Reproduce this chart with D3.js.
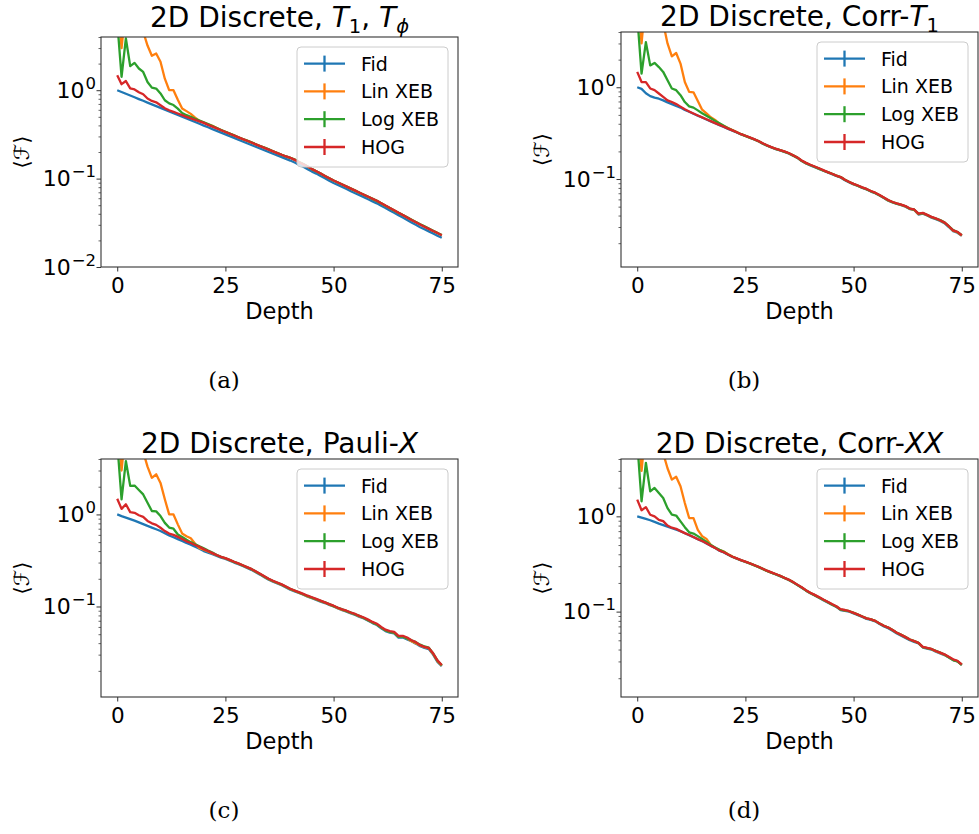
<!DOCTYPE html>
<html lang="en">
<head>
<meta charset="UTF-8">
<title>2D Discrete fidelity estimates</title>
<script src="https://cdn.jsdelivr.net/npm/d3@7/dist/d3.min.js"></script>
<style>
  body{margin:0;background:#fff;}
  text{font-family:"DejaVu Sans",sans-serif;fill:#000;}
  .cap{font-family:"DejaVu Serif",serif;}
</style>
</head>
<body>
<div id="chart"></div>
<script>
// depth axis (shared by all panels)
var depth=[0,1,2,3,4,5,6,7,8,9,10,11,12,13,14,15,16,17,18,19,20,21,22,23,24,25,26,27,28,29,
30,31,32,33,34,35,36,37,38,39,40,41,42,43,44,45,46,47,48,49,50,51,52,53,54,55,56,57,58,59,
60,61,62,63,64,65,66,67,68,69,70,71,72,73,74,75];

var seriesNames=["Fid","Lin XEB","Log XEB","HOG"];
var captions=["(a)","(b)","(c)","(d)"];
var xTicks=[0,25,50,75];
var yTickLabels=[["10","0"],["10","\u22121"],["10","\u22122"]];
var yTickValues=[1,0.1,0.01];
var yHigh=[4,4,4,4];
var yLow=[0.01,0.011,0.0104,0.0127];

// (a) T1, Tphi
var fidA=[1.000,0.955,0.912,0.871,0.832,0.794,0.759,0.724,0.692,0.661,
0.631,0.603,0.577,0.549,0.525,0.502,0.479,0.457,0.437,0.417,
0.398,0.381,0.363,0.347,0.331,0.317,0.302,0.289,0.275,0.263,
0.251,0.240,0.229,0.219,0.209,0.200,0.191,0.183,0.175,0.167,
0.160,0.152,0.144,0.136,0.128,0.120,0.114,0.107,0.101,0.0946,
0.0891,0.0845,0.0802,0.0762,0.0721,0.0684,0.0649,0.0617,0.0583,0.0553,
0.0525,0.0493,0.0465,0.0436,0.0411,0.0385,0.0362,0.0340,0.0319,0.0300,
0.0282,0.0267,0.0253,0.0239,0.0226,0.0214];
var linA=[12.0,3.0,9.0,7.5,6.8,7.2,4.6,3.2,2.45,2.6,
2.1,1.35,1.0,1.0,0.78,0.62,0.58,0.54,0.49,0.45,
0.43,0.41,0.395,0.374,0.355,0.339,0.323,0.308,0.294,0.281,
0.269,0.257,0.245,0.234,0.224,0.214,0.204,0.195,0.186,0.178,
0.172,0.164,0.154,0.146,0.137,0.128,0.121,0.114,0.107,0.101,
0.0952,0.0904,0.0857,0.0812,0.0770,0.0731,0.0693,0.0657,0.0623,0.0590,
0.0560,0.0527,0.0494,0.0466,0.0437,0.0411,0.0387,0.0364,0.0342,0.0322,
0.0303,0.0287,0.0271,0.0256,0.0243,0.0229];
var logA=[6.0,1.42,3.85,1.87,2.04,1.76,1.61,1.24,1.07,1.045,
0.92,0.77,0.71,0.68,0.62,0.553,0.522,0.500,0.476,0.455,
0.434,0.413,0.393,0.373,0.355,0.339,0.323,0.308,0.294,0.281,
0.269,0.257,0.245,0.234,0.224,0.214,0.204,0.195,0.186,0.178,
0.172,0.164,0.154,0.146,0.137,0.128,0.121,0.114,0.107,0.101,
0.0952,0.0905,0.0857,0.0812,0.0770,0.0731,0.0693,0.0657,0.0623,0.0590,
0.0560,0.0527,0.0494,0.0466,0.0437,0.0411,0.0387,0.0365,0.0343,0.0323,
0.0304,0.0288,0.0272,0.0257,0.0243,0.0230];
var hogA=[1.48,1.17,1.27,1.05,1.02,0.95,0.90,0.805,0.757,0.73,
0.676,0.625,0.594,0.570,0.545,0.522,0.500,0.480,0.462,0.445,
0.427,0.405,0.387,0.370,0.353,0.337,0.322,0.307,0.293,0.280,
0.268,0.256,0.244,0.233,0.223,0.213,0.203,0.194,0.186,0.178,
0.172,0.163,0.153,0.145,0.137,0.128,0.121,0.114,0.107,0.101,
0.0951,0.0902,0.0856,0.0812,0.0770,0.0731,0.0693,0.0658,0.0623,0.0591,
0.0561,0.0527,0.0496,0.0466,0.0438,0.0411,0.0387,0.0363,0.0341,0.0321,
0.0302,0.0285,0.0270,0.0255,0.0242,0.0229];

// (b) Corr-T1
var fidB=[1.000,0.960,0.860,0.800,0.770,0.750,0.720,0.685,0.655,0.625,
0.600,0.565,0.540,0.515,0.490,0.468,0.446,0.425,0.405,0.387,
0.370,0.352,0.337,0.321,0.306,0.294,0.282,0.270,0.258,0.243,
0.231,0.221,0.212,0.205,0.198,0.190,0.180,0.170,0.157,0.148,
0.141,0.135,0.129,0.123,0.118,0.113,0.108,0.104,0.097,0.092,
0.0875,0.0840,0.0800,0.0770,0.0730,0.0700,0.0660,0.0620,0.0580,0.0555,
0.0535,0.0520,0.0500,0.0470,0.0460,0.0410,0.0420,0.0400,0.0380,0.0365,
0.0350,0.0330,0.0300,0.0270,0.0260,0.0240];
var linB=[12.0,3.0,10.0,8.0,7.0,7.5,5.0,3.0,2.17,2.36,
1.81,1.14,0.89,0.88,0.71,0.57,0.52,0.47,0.44,0.40,
0.378,0.360,0.342,0.325,0.308,0.295,0.283,0.271,0.259,0.244,
0.232,0.222,0.213,0.206,0.199,0.191,0.181,0.171,0.158,0.149,
0.142,0.136,0.130,0.124,0.119,0.114,0.109,0.105,0.098,0.093,
0.0880,0.0845,0.0805,0.0775,0.0735,0.0705,0.0665,0.0625,0.0585,0.0558,
0.0538,0.0523,0.0503,0.0473,0.0463,0.0415,0.0424,0.0404,0.0384,0.0369,
0.0354,0.0334,0.0304,0.0274,0.0263,0.0242];
var logB=[6.0,1.41,3.1,1.73,1.84,1.66,1.47,1.19,0.97,0.93,
0.82,0.69,0.62,0.60,0.56,0.52,0.49,0.46,0.43,0.405,
0.38,0.357,0.340,0.323,0.308,0.295,0.283,0.271,0.259,0.244,
0.232,0.222,0.213,0.206,0.199,0.191,0.181,0.171,0.158,0.149,
0.142,0.136,0.130,0.124,0.119,0.114,0.109,0.105,0.098,0.093,
0.0882,0.0846,0.0806,0.0776,0.0736,0.0706,0.0666,0.0626,0.0587,0.0560,
0.0540,0.0525,0.0505,0.0475,0.0465,0.0418,0.0426,0.0406,0.0386,0.0371,
0.0357,0.0337,0.0307,0.0278,0.0265,0.0245];
var hogB=[1.47,1.14,1.14,0.97,0.93,0.855,0.785,0.72,0.69,0.655,
0.615,0.575,0.545,0.518,0.492,0.470,0.448,0.427,0.407,0.389,
0.372,0.354,0.339,0.323,0.308,0.296,0.284,0.272,0.260,0.245,
0.233,0.223,0.214,0.207,0.200,0.192,0.182,0.172,0.159,0.150,
0.143,0.137,0.131,0.125,0.119,0.114,0.109,0.105,0.098,0.093,
0.0885,0.0850,0.0810,0.0780,0.0740,0.0710,0.0670,0.0630,0.0590,0.0562,
0.0542,0.0527,0.0507,0.0477,0.0466,0.0420,0.0428,0.0407,0.0387,0.0372,
0.0356,0.0336,0.0306,0.0276,0.0266,0.0244];

// (c) Pauli-X
var fidC=[1.000,0.960,0.925,0.890,0.855,0.820,0.785,0.750,0.720,0.690,
0.660,0.625,0.590,0.565,0.540,0.515,0.490,0.470,0.445,0.425,
0.400,0.385,0.370,0.355,0.340,0.329,0.315,0.300,0.288,0.275,
0.262,0.250,0.235,0.222,0.208,0.195,0.186,0.178,0.170,0.161,
0.152,0.146,0.140,0.134,0.128,0.123,0.118,0.113,0.109,0.104,
0.100,0.095,0.091,0.088,0.084,0.081,0.077,0.074,0.070,0.066,
0.063,0.058,0.054,0.052,0.051,0.046,0.046,0.044,0.042,0.0395,
0.037,0.0355,0.0345,0.030,0.025,0.0225];
var linC=[12.0,3.0,9.0,7.5,6.8,7.2,4.8,3.3,2.5,2.73,
2.2,1.46,1.0,1.0,0.78,0.62,0.58,0.55,0.48,0.43,
0.415,0.395,0.377,0.360,0.345,0.333,0.319,0.304,0.292,0.279,
0.266,0.254,0.239,0.225,0.211,0.198,0.188,0.180,0.172,0.163,
0.154,0.148,0.141,0.135,0.129,0.124,0.119,0.114,0.110,0.105,
0.101,0.096,0.092,0.089,0.085,0.082,0.078,0.075,0.071,0.067,
0.064,0.059,0.055,0.053,0.052,0.047,0.047,0.045,0.042,0.040,
0.0378,0.0362,0.0352,0.0305,0.0255,0.0228];
var logC=[6.0,1.46,3.8,2.04,2.06,1.84,1.65,1.34,1.09,1.08,
0.96,0.81,0.72,0.70,0.605,0.57,0.53,0.50,0.475,0.45,
0.428,0.405,0.385,0.362,0.346,0.334,0.320,0.305,0.293,0.280,
0.267,0.255,0.240,0.226,0.212,0.199,0.189,0.181,0.173,0.164,
0.155,0.149,0.142,0.136,0.130,0.125,0.120,0.115,0.111,0.106,
0.101,0.097,0.093,0.089,0.086,0.082,0.079,0.075,0.071,0.067,
0.064,0.059,0.055,0.053,0.052,0.047,0.047,0.045,0.043,0.041,
0.0385,0.0368,0.0358,0.031,0.0258,0.023];
var hogC=[1.48,1.15,1.29,1.06,1.04,0.98,0.94,0.85,0.80,0.77,
0.716,0.66,0.62,0.60,0.57,0.54,0.51,0.49,0.465,0.445,
0.42,0.40,0.38,0.362,0.346,0.335,0.321,0.306,0.294,0.281,
0.268,0.256,0.241,0.227,0.213,0.200,0.190,0.182,0.174,0.165,
0.156,0.149,0.143,0.137,0.131,0.126,0.121,0.116,0.111,0.106,
0.102,0.097,0.093,0.090,0.086,0.083,0.079,0.076,0.072,0.068,
0.065,0.060,0.056,0.054,0.053,0.048,0.048,0.046,0.043,0.041,
0.038,0.0365,0.0355,0.031,0.026,0.0232];

// (d) Corr-XX
var fidD=[1.000,0.970,0.940,0.910,0.875,0.840,0.810,0.780,0.750,0.725,
0.700,0.665,0.635,0.605,0.575,0.550,0.520,0.490,0.465,0.435,
0.418,0.395,0.375,0.360,0.345,0.333,0.320,0.307,0.294,0.280,
0.267,0.256,0.246,0.236,0.225,0.215,0.203,0.190,0.178,0.166,
0.156,0.148,0.140,0.132,0.125,0.118,0.112,0.104,0.102,0.100,
0.096,0.092,0.088,0.084,0.082,0.079,0.074,0.070,0.067,0.063,
0.059,0.056,0.053,0.050,0.048,0.0465,0.042,0.041,0.040,0.038,
0.0365,0.035,0.033,0.031,0.030,0.0275];
var linD=[12.0,3.0,9.0,7.5,6.8,7.2,4.6,3.2,2.43,2.6,
2.07,1.38,0.96,0.96,0.72,0.62,0.58,0.50,0.465,0.445,
0.428,0.400,0.378,0.361,0.346,0.334,0.321,0.308,0.295,0.281,
0.268,0.257,0.247,0.237,0.226,0.216,0.204,0.191,0.179,0.167,
0.157,0.149,0.141,0.133,0.126,0.119,0.113,0.105,0.103,0.101,
0.097,0.093,0.089,0.085,0.083,0.080,0.075,0.071,0.068,0.064,
0.060,0.057,0.054,0.051,0.049,0.047,0.0423,0.0413,0.0403,0.0385,
0.0369,0.0353,0.0332,0.0312,0.0302,0.0276];
var logD=[6.0,1.44,3.65,1.83,1.99,1.76,1.56,1.22,1.04,1.02,
0.885,0.77,0.68,0.66,0.62,0.58,0.54,0.50,0.47,0.445,
0.424,0.398,0.377,0.361,0.346,0.334,0.321,0.308,0.295,0.281,
0.268,0.257,0.247,0.237,0.226,0.216,0.204,0.191,0.179,0.167,
0.157,0.149,0.141,0.133,0.126,0.119,0.113,0.105,0.103,0.101,
0.097,0.093,0.089,0.085,0.083,0.080,0.075,0.071,0.068,0.064,
0.060,0.057,0.054,0.051,0.049,0.047,0.0425,0.0415,0.0405,0.0388,
0.0372,0.0355,0.0332,0.0310,0.0300,0.0277];
var hogD=[1.50,1.16,1.25,1.04,1.00,0.92,0.89,0.80,0.76,0.74,
0.70,0.667,0.637,0.607,0.577,0.552,0.522,0.492,0.467,0.437,
0.420,0.397,0.377,0.362,0.347,0.335,0.322,0.309,0.296,0.282,
0.269,0.258,0.248,0.238,0.227,0.217,0.205,0.192,0.180,0.168,
0.158,0.150,0.142,0.134,0.127,0.120,0.114,0.106,0.104,0.101,
0.097,0.093,0.089,0.085,0.083,0.080,0.075,0.071,0.068,0.064,
0.060,0.057,0.054,0.051,0.049,0.047,0.0427,0.0416,0.0406,0.0386,
0.0371,0.0356,0.0336,0.0316,0.0305,0.0279];

var colors=["#1f77b4","#ff7f0e","#2ca02c","#d62728"];

// title pieces: [text, kind]  kind: "" normal, "i" italic, "s" subscript, "is" italic subscript
var titles=[
  [["2D Discrete, ",""],["T","i"],["1","s"],[", ",""],["T","i"],["\u03d5","is"]],
  [["2D Discrete, Corr-",""],["T","i"],["1","s"]],
  [["2D Discrete, Pauli-",""],["X","i"]],
  [["2D Discrete, Corr-",""],["XX","i"]]
];

// panel frames in page pixels
var panels=[
  {series:[fidA,linA,logA,hogA],left:101,right:458,top:37,bottom:267,titleY:27,capX:224,capY:388},
  {series:[fidB,linB,logB,hogB],left:621,right:978,top:32,bottom:267,titleY:26,capX:744,capY:388},
  {series:[fidC,linC,logC,hogC],left:101,right:458,top:459,bottom:697,titleY:453,capX:224,capY:818},
  {series:[fidD,linD,logD,hogD],left:621,right:978,top:459,bottom:697,titleY:453,capX:744,capY:818}
];

var svg=d3.select("#chart").append("svg")
  .attr("width",979).attr("height",834);

panels.forEach(function(p,pi){
  var x=d3.scaleLinear().domain([-3.75,78.75]).range([p.left,p.right]);
  var y=d3.scaleLog().domain([yLow[pi],yHigh[pi]]).range([p.bottom,p.top]);
  var g=svg.append("g");

  g.append("clipPath").attr("id","clip"+pi)
    .append("rect")
    .attr("x",p.left).attr("y",p.top)
    .attr("width",p.right-p.left).attr("height",p.bottom-p.top);

  // data lines
  var line=d3.line()
    .x(function(d){return x(d[0]);})
    .y(function(d){return y(d[1]);});
  var plot=g.append("g").attr("clip-path","url(#clip"+pi+")");
  p.series.forEach(function(vals,si){
    plot.append("path")
      .datum(depth.map(function(dd,k){return [dd,vals[k]];}))
      .attr("d",line)
      .attr("fill","none")
      .attr("stroke",colors[si])
      .attr("stroke-width",2.3)
      .attr("stroke-linejoin","round");
  });

  // x axis
  var xAxis=d3.axisBottom(x).tickValues(xTicks).tickSize(4.5).tickPadding(4);
  var xg=g.append("g").attr("transform","translate(0,"+p.bottom+")").call(xAxis);
  xg.select(".domain").remove();
  xg.selectAll(".tick line").attr("stroke","#333").attr("stroke-width",1);
  xg.selectAll(".tick text")
    .attr("font-family","DejaVu Sans").attr("font-size",21.5).attr("fill","#000")
    .attr("dy",null).attr("y",26);

  // y axis: minor ticks first
  var minors=[];
  [-3,-2,-1,0].forEach(function(k){
    for(var m=2;m<=9;m++){
      var v=m*Math.pow(10,k);
      if(v>=yLow[pi]&&v<=yHigh[pi]) minors.push(v);
    }
  });
  var yMinor=d3.axisLeft(y).tickValues(minors).tickSize(2.5).tickFormat("");
  var ym=g.append("g").attr("transform","translate("+p.left+",0)").call(yMinor);
  ym.select(".domain").remove();
  ym.selectAll(".tick line").attr("stroke","#555").attr("stroke-width",0.9);

  var majors=yTickValues.filter(function(v){return v>=yLow[pi]*0.999&&v<=yHigh[pi];});
  var yAxis=d3.axisLeft(y).tickValues(majors).tickSize(4.5).tickFormat("");
  var yg=g.append("g").attr("transform","translate("+p.left+",0)").call(yAxis);
  yg.select(".domain").remove();
  yg.selectAll(".tick line").attr("stroke","#333").attr("stroke-width",1);
  majors.forEach(function(v){
    var lab=yTickLabels[yTickValues.indexOf(v)];
    var t=g.append("text")
      .attr("x",p.left-5).attr("y",y(v)+7.5)
      .attr("text-anchor","end")
      .attr("font-size",22);
    t.append("tspan").text(lab[0]);
    t.append("tspan").attr("font-size",16.5).attr("dx",1).attr("dy",-9).text(lab[1]);
  });

  // frame
  g.append("rect")
    .attr("x",p.left).attr("y",p.top)
    .attr("width",p.right-p.left).attr("height",p.bottom-p.top)
    .attr("fill","none").attr("stroke","#333").attr("stroke-width",1.1);

  // title
  var title=g.append("text")
    .attr("x",(p.left+p.right)/2).attr("y",p.titleY)
    .attr("text-anchor","middle").attr("font-size",28);
  titles[pi].forEach(function(part,k){
    var ts=title.append("tspan").text(part[0]);
    if(part[1].indexOf("i")>=0) ts.attr("font-style","italic");
    if(part[1].indexOf("s")>=0) ts.attr("font-size",19.5).attr("dy",6);
    else if(k>0&&titles[pi][k-1][1].indexOf("s")>=0) ts.attr("dy",-6);
  });

  // axis labels
  g.append("text")
    .attr("x",(p.left+p.right)/2).attr("y",p.bottom+52)
    .attr("text-anchor","middle").attr("font-size",22.5)
    .text("Depth");
  g.append("text")
    .attr("transform","translate("+(p.left-79)+","+((p.top+p.bottom)/2)+") rotate(-90)")
    .attr("text-anchor","middle")
    .attr("dy","0.35em")
    .attr("font-family","DejaVu Serif").attr("font-size",21)
    .text("\u27e8\u2131\u27e9");

  // legend
  var lx=p.right-161,ly=p.top+10;
  var leg=g.append("g").attr("transform","translate("+lx+","+ly+")");
  leg.append("rect")
    .attr("width",151).attr("height",120).attr("rx",4)
    .attr("fill","#fff").attr("fill-opacity",0.8)
    .attr("stroke","#ccc").attr("stroke-width",1);
  seriesNames.forEach(function(name,si){
    var cy=16.6+si*27.8;
    leg.append("line")
      .attr("x1",7).attr("x2",48).attr("y1",cy).attr("y2",cy)
      .attr("stroke",colors[si]).attr("stroke-width",2.3);
    leg.append("line")
      .attr("x1",27.5).attr("x2",27.5).attr("y1",cy-8).attr("y2",cy+8)
      .attr("stroke",colors[si]).attr("stroke-width",2.3);
    leg.append("text")
      .attr("x",64).attr("y",cy+7)
      .attr("font-size",19)
      .text(name);
  });

  // sub-figure caption
  svg.append("text").attr("class","cap")
    .attr("x",p.capX).attr("y",p.capY)
    .attr("text-anchor","middle").attr("font-size",23)
    .text(captions[pi]);
});
</script>
</body>
</html>
